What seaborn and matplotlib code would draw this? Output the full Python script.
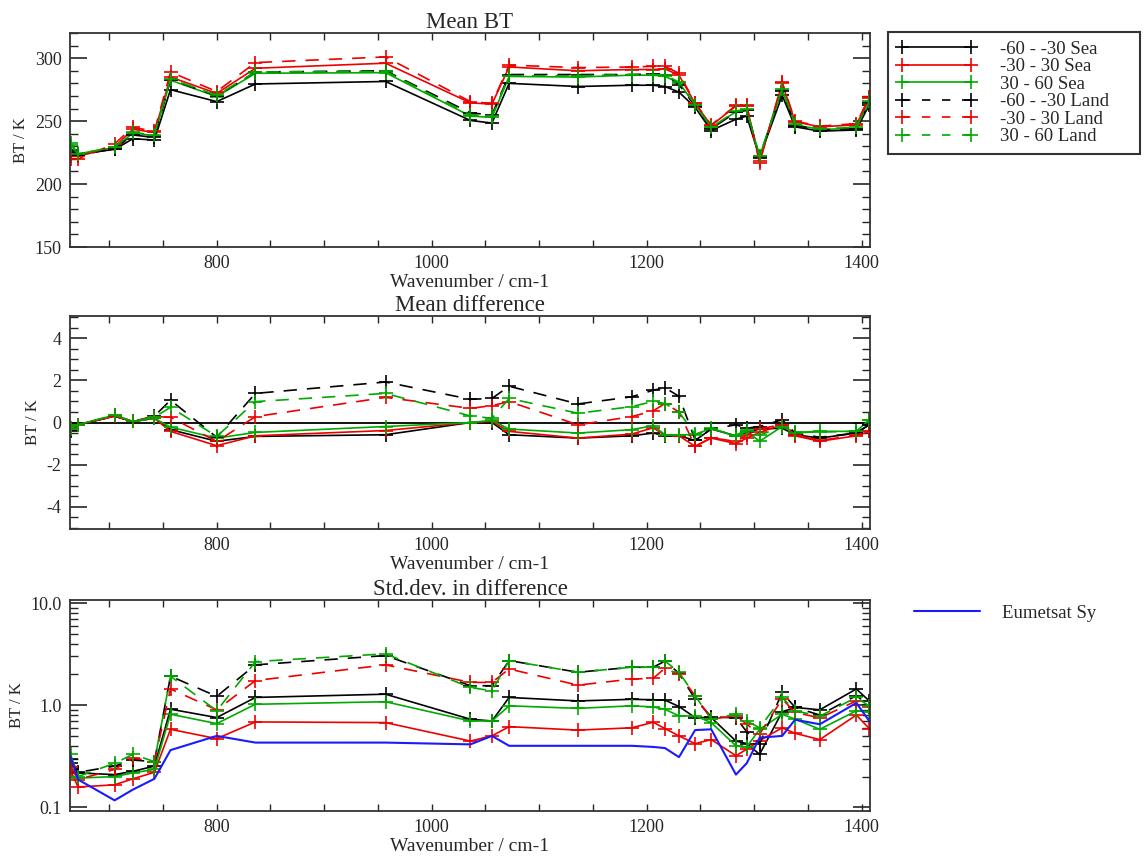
import numpy as np
import pandas as pd
import seaborn as sns
import matplotlib
matplotlib.use("Agg")
import matplotlib.pyplot as plt
from matplotlib.lines import Line2D
from matplotlib.ticker import MultipleLocator, LogLocator, NullFormatter, FixedLocator, FixedFormatter

# ---------------- data ----------------
wavenumber = [664, 671, 705, 722, 742, 757, 800, 836, 957, 1036, 1056, 1072, 1136, 1186,
              1206, 1217, 1230, 1245, 1260, 1283, 1293, 1305, 1326, 1338, 1361, 1395, 1407]

series_labels = ["-60 - -30 Sea", "-30 - 30 Sea", "30 - 60 Sea",
                 "-60 - -30 Land", "-30 - 30 Land", "30 - 60 Land"]

# Mean BT (K)
bt_sea_s = [227, 224, 227.5, 236, 235, 275, 265.5, 279.5, 281.5, 250.5, 248.5, 280, 277.5, 278.5,
            278.5, 277.5, 273, 261, 242.5, 251.5, 254, 221, 270.5, 245.5, 242, 243, 263]
bt_sea_t = [222, 222, 229.5, 243.5, 241, 285, 272, 292, 296, 264.5, 263.5, 293, 290, 291,
            291, 291.5, 286.5, 264, 246.5, 262, 262, 218.5, 280, 249.5, 245.5, 247, 268]
bt_sea_n = [233, 224, 229, 240.5, 238.5, 282.5, 269.5, 288, 288.5, 254, 253, 285.5, 285, 286.5,
            286.5, 285.5, 280.5, 263, 244.5, 257.5, 259, 222, 275, 247, 243.5, 244, 265]
bt_land_s = [226, 223, 228, 239, 237, 283, 270, 289, 290, 256.5, 255, 287, 287, 287,
             287.5, 286.5, 279, 262, 244, 257, 258.5, 221.5, 274, 246.5, 243, 244, 264]
bt_land_t = [220, 220, 232, 245, 242, 289, 273.5, 296.5, 301, 265.5, 264, 294.5, 292.5, 293,
             293.5, 293.5, 288, 264.5, 247, 262.5, 263, 216.5, 281, 250, 246, 248, 269]
bt_land_n = [231, 224, 229.5, 241, 239, 283.5, 270.5, 289, 289.5, 255, 254, 286, 286, 287,
             287, 286.5, 281, 263, 245, 258, 259.5, 222, 275.5, 247.5, 244, 245, 266]

# Mean difference (K)
md_sea_s = [-0.42, -0.1, 0.3, 0.05, 0.2, -0.34, -0.89, -0.66, -0.58, 0.0, 0.0, -0.58, -0.74, -0.63,
            -0.5, -0.63, -0.63, -0.85, -0.31, -0.63, -0.47, -0.31, -0.27, -0.58, -0.74, -0.5, -0.11]
md_sea_t = [-0.27, -0.1, 0.3, 0.05, 0.2, -0.42, -1.1, -0.63, -0.38, 0.0, 0.05, -0.42, -0.74, -0.55,
            -0.25, -0.6, -0.63, -1.13, -0.74, -1.0, -0.74, -0.47, -0.11, -0.63, -0.89, -0.63, -0.42]
md_sea_n = [-0.27, -0.1, 0.35, 0.05, 0.2, -0.22, -0.74, -0.47, -0.19, 0.0, 0.1, -0.31, -0.5, -0.34,
            -0.15, -0.58, -0.58, -0.58, -0.27, -0.66, -0.42, -0.89, -0.19, -0.47, -0.42, -0.42, 0.13]
md_land_s = [-0.35, -0.1, 0.3, 0.05, 0.3, 1.06, -0.7, 1.38, 1.92, 1.1, 1.14, 1.72, 0.88, 1.22,
             1.53, 1.65, 1.24, -0.82, -0.31, -0.11, -0.27, -0.19, 0.13, -0.5, -0.7, -0.5, -0.1]
md_land_t = [-0.3, -0.1, 0.3, 0.05, 0.28, 0.25, -0.9, 0.28, 1.19, 0.67, 0.8, 0.99, -0.11, 0.28,
             0.55, 0.9, 0.5, -1.13, -0.72, -0.9, -0.6, -0.3, -0.1, -0.6, -0.85, -0.6, -0.4]
md_land_n = [-0.3, -0.1, 0.35, 0.05, 0.25, 0.72, -0.66, 0.99, 1.38, 0.31, 0.2, 1.14, 0.44, 0.75,
             1.0, 0.9, 0.5, -0.56, -0.3, -0.6, -0.35, -0.6, -0.2, -0.48, -0.45, -0.42, 0.1]

# Std.dev. in difference (K)
sd_sea_s = [0.27, 0.217, 0.209, 0.225, 0.253, 0.913, 0.756, 1.19, 1.28, 0.728, 0.70, 1.19, 1.10, 1.14,
            1.13, 1.12, 0.97, 0.756, 0.756, 0.445, 0.42, 0.33, 0.86, 0.95, 0.90, 1.44, 1.10]
sd_sea_t = [0.23, 0.158, 0.166, 0.19, 0.22, 0.58, 0.47, 0.685, 0.675, 0.445, 0.5, 0.616, 0.57, 0.60,
            0.68, 0.59, 0.50, 0.42, 0.46, 0.32, 0.37, 0.45, 0.60, 0.53, 0.46, 0.80, 0.59]
sd_sea_n = [0.25, 0.193, 0.2, 0.217, 0.235, 0.815, 0.66, 1.02, 1.08, 0.70, 0.70, 0.985, 0.93, 0.985,
            0.96, 0.91, 0.785, 0.785, 0.675, 0.40, 0.39, 0.58, 0.815, 0.73, 0.58, 0.88, 0.86]
sd_land_s = [0.3, 0.22, 0.253, 0.29, 0.28, 1.92, 1.22, 2.48, 3.06, 1.55, 1.55, 2.73, 2.1, 2.35,
             2.35, 2.7, 2.05, 1.15, 0.77, 0.75, 0.55, 0.42, 1.33, 0.95, 0.80, 1.24, 1.0]
sd_land_t = [0.25, 0.187, 0.235, 0.305, 0.28, 1.44, 0.9, 1.74, 2.48, 1.67, 1.67, 2.26, 1.57, 1.8,
             1.83, 2.3, 2.0, 1.24, 0.73, 0.785, 0.65, 0.52, 1.15, 0.85, 0.75, 1.1, 0.95]
sd_land_n = [0.33, 0.2, 0.27, 0.33, 0.28, 1.92, 0.88, 2.67, 3.18, 1.49, 1.38, 2.73, 2.1, 2.35,
             2.35, 2.7, 2.1, 1.24, 0.73, 0.815, 0.70, 0.60, 1.19, 0.88, 0.78, 1.19, 0.98]
sd_eumetsat = [0.316, 0.187, 0.117, 0.149, 0.19, 0.363, 0.5, 0.43, 0.43, 0.413, 0.5, 0.40, 0.40, 0.40,
               0.39, 0.38, 0.31, 0.57, 0.58, 0.209, 0.27, 0.48, 0.50, 0.72, 0.65, 1.05, 0.70]
eumetsat_label = "Eumetsat Sy"

# ---------------- styling ----------------
sns.set_style("ticks")
plt.rcParams["font.family"] = ["Liberation Serif", "DejaVu Serif"]
plt.rcParams["axes.linewidth"] = 1.3
plt.rcParams["axes.unicode_minus"] = False

BLACK, RED, GREEN, BLUE = "#000000", "#ee0000", "#00aa00", "#1a1aff"
colors = [BLACK, RED, GREEN, BLACK, RED, GREEN]
dashed = [False, False, False, True, True, True]
DASH = (8, 6)
LW = 1.2
MS = 10
MEW = 1.2
FS = 13

fig = plt.figure(figsize=(11.47, 8.59), dpi=100)
W, H = 1147, 859

def add_ax(l, r, t, b):
    return fig.add_axes([l / W, 1 - b / H, (r - l) / W, (b - t) / H])

ax1 = add_ax(70, 870, 33, 247)
ax2 = add_ax(70, 870, 316, 529)
ax3 = add_ax(70, 870, 600, 811)

def draw(ax, vals_list):
    for vals, c, d in zip(vals_list, colors, dashed):
        sns.lineplot(x=wavenumber, y=vals, ax=ax, color=c, lw=LW, marker="+",
                     markersize=MS, markeredgewidth=MEW, markeredgecolor=c,
                     markerfacecolor=c, errorbar=None, legend=False)
        if d:
            ax.get_lines()[-1].set_dashes(DASH)

draw(ax1, [bt_sea_s, bt_sea_t, bt_sea_n, bt_land_s, bt_land_t, bt_land_n])
ax2.axhline(0, color="black", lw=1.3, zorder=1)
draw(ax2, [md_sea_s, md_sea_t, md_sea_n, md_land_s, md_land_t, md_land_n])
draw(ax3, [sd_sea_s, sd_sea_t, sd_sea_n, sd_land_s, sd_land_t, sd_land_n])
sns.lineplot(x=wavenumber, y=sd_eumetsat, ax=ax3, color=BLUE, lw=1.5, errorbar=None, legend=False)

titles = ["Mean BT", "Mean difference", "Std.dev. in difference"]
for ax, title in zip([ax1, ax2, ax3], titles):
    ax.set_xlim(663.5, 1407.7)
    ax.xaxis.set_major_locator(MultipleLocator(200))
    ax.xaxis.set_minor_locator(MultipleLocator(50))
    ax.set_xlabel("Wavenumber / cm-1", fontsize=FS + 1, labelpad=1)
    ax.set_ylabel("BT / K", fontsize=FS - 1, labelpad=4)
    ax.set_title(title, fontsize=FS + 3.5, pad=3)
    ax.tick_params(which="both", direction="in", top=True, right=True, labelsize=FS, pad=6)
    ax.tick_params(axis="y", which="major", length=12, width=1.2)
    ax.tick_params(axis="y", which="minor", length=6, width=1.0)
    ax.tick_params(axis="x", which="both", length=5, width=1.0)
    for s in ax.spines.values():
        s.set_visible(True)
        s.set_color("#333333")

ax1.set_ylim(150, 320)
ax1.yaxis.set_major_locator(MultipleLocator(50))
ax1.yaxis.set_minor_locator(MultipleLocator(10))

ax2.set_ylim(-5.05, 5.05)
ax2.yaxis.set_major_locator(MultipleLocator(2))
ax2.yaxis.set_minor_locator(MultipleLocator(0.5))

ax3.set_yscale("log")
ax3.set_ylim(0.092, 10.7)
ax3.yaxis.set_major_locator(FixedLocator([0.1, 1.0, 10.0]))
ax3.yaxis.set_major_formatter(FixedFormatter(["0.1", "1.0", "10.0"]))
ax3.yaxis.set_minor_locator(LogLocator(base=10, subs=np.arange(2, 10)))
ax3.yaxis.set_minor_formatter(NullFormatter())

# legends
handles = []
for lab, c, d in zip(series_labels, colors, dashed):
    h = Line2D([0], [0], color=c, lw=LW, marker="+", markersize=MS, markeredgewidth=MEW,
               markeredgecolor=c, linestyle="-")
    if d:
        h.set_dashes((5, 7))
    handles.append(h)
leg = fig.legend(handles=handles, labels=series_labels, loc="upper left",
                 bbox_to_anchor=(888 / W, 1 - 33 / H, 252 / W, 0.001), mode="expand",
                 frameon=True, fancybox=False, numpoints=2, handlelength=4.3,
                 handletextpad=1.25, fontsize=FS + 0.5, labelspacing=0.02, borderpad=0.45,
                 borderaxespad=0)
leg.get_frame().set_edgecolor("black")
leg.get_frame().set_linewidth(1.5)

hb = Line2D([0], [0], color=BLUE, lw=1.5)
fig.legend(handles=[hb], labels=[eumetsat_label], loc="center left",
           bbox_to_anchor=(897 / W, 1 - 613 / H), frameon=False, handlelength=3.5,
           handletextpad=1.2, fontsize=FS + 0.5)

fig.savefig("out.png", dpi=100)
